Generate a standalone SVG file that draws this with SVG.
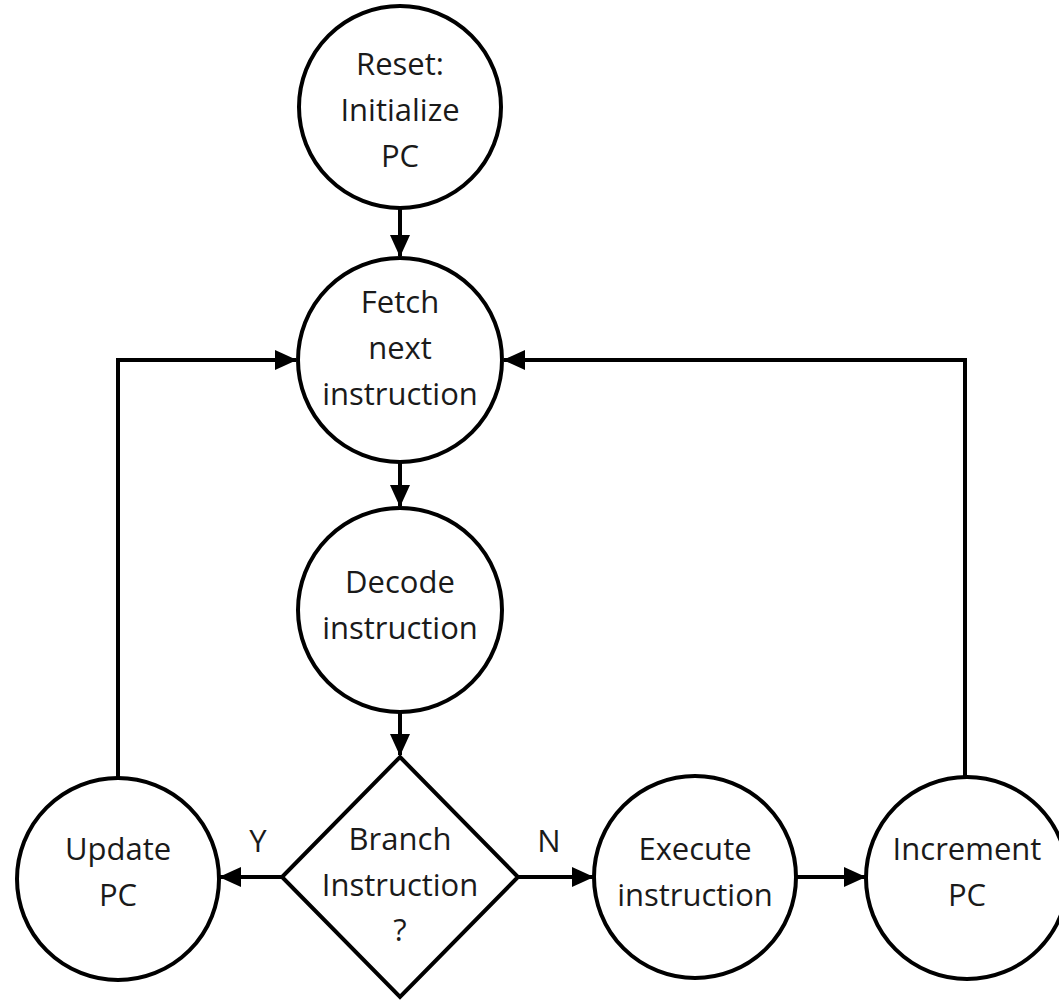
<svg xmlns="http://www.w3.org/2000/svg" width="1059" height="1001" viewBox="0 0 1059 1001">
  <style>
    .node { fill: #ffffff; stroke: #000000; stroke-width: 4; }
    .label { font-family: "Open Sans", "Noto Sans", sans-serif; font-size: 31px; fill: #1a1a1a; text-anchor: middle; }
    .edge { fill: none; stroke: #000000; stroke-width: 4; }
  </style>
  <defs>
    <marker id="arrow" viewBox="0 0 22 20" refX="21" refY="10" markerWidth="22" markerHeight="20" markerUnits="userSpaceOnUse" orient="auto">
      <path d="M0,0 L22,10 L0,20 Z" fill="#000000"/>
    </marker>
  </defs>
  <rect width="1059" height="1001" fill="#ffffff"/>

  <!-- connectors -->
  <g id="connectors">
    <path class="edge" d="M400,209 L400,256" marker-end="url(#arrow)"/>
    <path class="edge" d="M400,463 L400,506" marker-end="url(#arrow)"/>
    <path class="edge" d="M400,713 L400,755" marker-end="url(#arrow)"/>
    <path class="edge" d="M282,877 L220,877" marker-end="url(#arrow)"/>
    <path class="edge" d="M518,877 L593,877" marker-end="url(#arrow)"/>
    <path class="edge" d="M796,877 L865,877" marker-end="url(#arrow)"/>
    <path class="edge" d="M118,777 L118,360 L296,360" marker-end="url(#arrow)"/>
    <path class="edge" d="M965,777 L965,360 L504,360" marker-end="url(#arrow)"/>
    <text class="label" x="258" y="852">Y</text>
    <text class="label" x="549" y="852">N</text>
  </g>

  <g id="reset">
    <circle class="node" cx="400" cy="107" r="101"/>
    <text class="label" x="400" y="75">Reset:</text>
    <text class="label" x="400" y="121">Initialize</text>
    <text class="label" x="400" y="167">PC</text>
  </g>

  <g id="fetch">
    <circle class="node" cx="400" cy="360" r="102"/>
    <text class="label" x="400" y="313">Fetch</text>
    <text class="label" x="400" y="359">next</text>
    <text class="label" x="400" y="405">instruction</text>
  </g>

  <g id="decode">
    <circle class="node" cx="400" cy="610" r="102"/>
    <text class="label" x="400" y="593">Decode</text>
    <text class="label" x="400" y="639">instruction</text>
  </g>

  <g id="branch">
    <polygon class="node" points="400,757 518,877 400,997 282,877"/>
    <text class="label" x="400" y="850">Branch</text>
    <text class="label" x="400" y="896">Instruction</text>
    <text class="label" x="400" y="941">?</text>
  </g>

  <g id="update">
    <circle class="node" cx="118" cy="879" r="101"/>
    <text class="label" x="118" y="860">Update</text>
    <text class="label" x="118" y="906">PC</text>
  </g>

  <g id="execute">
    <circle class="node" cx="695" cy="877" r="101"/>
    <text class="label" x="695" y="860">Execute</text>
    <text class="label" x="695" y="906">instruction</text>
  </g>

  <g id="increment">
    <circle class="node" cx="967" cy="878" r="101"/>
    <text class="label" x="967" y="860">Increment</text>
    <text class="label" x="967" y="906">PC</text>
  </g>
</svg>
